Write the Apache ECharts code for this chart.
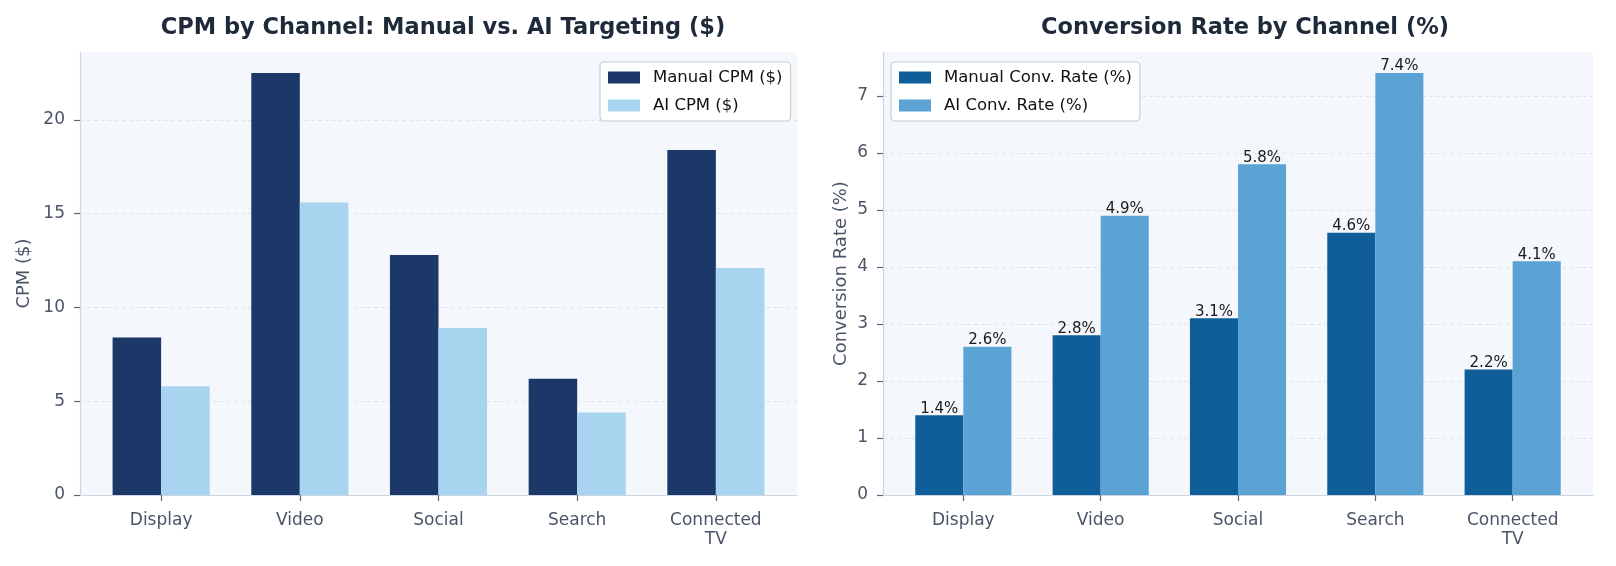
<!DOCTYPE html>
<html>
<head>
<meta charset="utf-8">
<script src="https://cdn.jsdelivr.net/npm/echarts@6/dist/echarts.min.js"></script>
<style>
  html, body { margin: 0; padding: 0; background: #ffffff; }
  #chart { width: 1616px; height: 566px; }
</style>
</head>
<body>
<div id="chart"></div>
<script>
const channels = ['Display', 'Video', 'Social', 'Search', 'Connected\nTV']
const manualCpm = [8.4, 22.5, 12.8, 6.2, 18.4]
const aiCpm = [5.8, 15.6, 8.9, 4.4, 12.1]
const manualConv = [1.4, 2.8, 3.1, 4.6, 2.2]
const aiConv = [2.6, 4.9, 5.8, 7.4, 4.1]
const cpmTicks = [0, 5, 10, 15, 20]
const convTicks = [0, 1, 2, 3, 4, 5, 6, 7]

const FONT = 'DejaVu Sans'
const LABEL_COLOR = '#4a5568'
const GRID_COLOR = '#dfe5ee'
const SPINE_COLOR = '#cdd5e3'
const TICK_COLOR = '#5a6578'
const PLOT_BG = '#f4f7fb'

// matplotlib-like x range: bars span -0.35..4.35 plus 5% margins
const X_PAD = 0.585
const X_SPAN = 4 + 2 * X_PAD

function frameGrid(left, right) {
  return { left: left, right: right, top: 52, bottom: 71, show: true, backgroundColor: PLOT_BG, borderWidth: 0 }
}

function barGrid(left, right) {
  const width = 1616 - left - right
  const px = width / X_SPAN
  const l = left + (X_PAD - 0.5) * px
  return { left: l, width: px * 5, top: 52, bottom: 71 }
}

function frameYAxis(gridIndex, max, ticks, name, nameGap) {
  return {
    type: 'value',
    gridIndex: gridIndex,
    min: 0,
    max: max,
    name: name,
    nameLocation: 'middle',
    nameGap: nameGap,
    nameTextStyle: { color: LABEL_COLOR, fontFamily: FONT, fontSize: 18 },
    axisLine: { show: true, lineStyle: { color: SPINE_COLOR, width: 1.2 } },
    axisTick: { show: true, length: 6, customValues: ticks, lineStyle: { color: TICK_COLOR, width: 1.2 } },
    axisLabel: {
      color: LABEL_COLOR, fontFamily: FONT, fontSize: 17, margin: 15,
      customValues: ticks
    },
    splitLine: { show: true, lineStyle: { color: GRID_COLOR, type: [4, 3], width: 1 } }
  }
}

function frameXAxis(gridIndex) {
  return {
    type: 'value',
    gridIndex: gridIndex,
    min: 0,
    max: 1,
    axisLine: { show: true, onZero: false, lineStyle: { color: SPINE_COLOR, width: 1.2 } },
    axisTick: { show: false },
    axisLabel: { show: false },
    splitLine: { show: false }
  }
}

function catXAxis(gridIndex) {
  return {
    type: 'category',
    gridIndex: gridIndex,
    data: channels,
    axisLine: { show: false },
    axisTick: { show: true, alignWithLabel: true, length: 6, lineStyle: { color: TICK_COLOR, width: 1.2 } },
    axisLabel: { color: LABEL_COLOR, fontFamily: FONT, fontSize: 17, margin: 16, lineHeight: 19 }
  }
}

function hiddenYAxis(gridIndex, max) {
  return { type: 'value', gridIndex: gridIndex, min: 0, max: max, show: false }
}

function legendAt(left, names) {
  return {
    left: left,
    top: 62,
    orient: 'vertical',
    data: names,
    itemWidth: 32,
    itemHeight: 12,
    itemGap: 11,
    padding: [7, 8, 7, 8],
    icon: 'rect',
    backgroundColor: 'rgba(255,255,255,0.9)',
    borderColor: '#cccccc',
    borderWidth: 1.2,
    borderRadius: 4,
    textStyle: { color: '#111111', fontFamily: FONT, fontSize: 16.5, padding: [0, 0, 0, 8] }
  }
}

const cpmMax = 23.625
const convMax = 7.77

const option = {
  animation: false,
  textStyle: { fontFamily: FONT },
  title: [
    {
      text: 'CPM by Channel: Manual vs. AI Targeting ($)',
      left: 438, top: 12, textAlign: 'center',
      textStyle: { color: '#1e2a3a', fontFamily: FONT, fontSize: 22.5, fontWeight: 'bold' }
    },
    {
      text: 'Conversion Rate by Channel (%)',
      left: 1240, top: 12, textAlign: 'center',
      textStyle: { color: '#1e2a3a', fontFamily: FONT, fontSize: 22.5, fontWeight: 'bold' }
    }
  ],
  legend: [
    legendAt(600, ['Manual CPM ($)', 'AI CPM ($)']),
    legendAt(891, ['Manual Conv. Rate (%)', 'AI Conv. Rate (%)'])
  ],
  grid: [
    frameGrid(80, 819),
    barGrid(80, 819),
    frameGrid(883, 23),
    barGrid(883, 23)
  ],
  xAxis: [
    frameXAxis(0),
    catXAxis(1),
    frameXAxis(2),
    catXAxis(3)
  ],
  yAxis: [
    frameYAxis(0, cpmMax, cpmTicks, 'CPM ($)', 47),
    hiddenYAxis(1, cpmMax),
    frameYAxis(2, convMax, convTicks, 'Conversion Rate (%)', 33),
    hiddenYAxis(3, convMax)
  ],
  series: [
    {
      name: 'Manual CPM ($)', type: 'bar', xAxisIndex: 1, yAxisIndex: 1,
      data: manualCpm, barWidth: '35%', barGap: '0%',
      itemStyle: { color: '#1c3868' }
    },
    {
      name: 'AI CPM ($)', type: 'bar', xAxisIndex: 1, yAxisIndex: 1,
      data: aiCpm, barWidth: '35%', barGap: '0%',
      itemStyle: { color: '#a8d4ef' }
    },
    {
      name: 'Manual Conv. Rate (%)', type: 'bar', xAxisIndex: 3, yAxisIndex: 3,
      data: manualConv, barWidth: '35%', barGap: '0%',
      itemStyle: { color: '#0f5e99' },
      label: { show: true, position: 'top', distance: -1, formatter: '{c}%', color: '#1a1a1a', fontFamily: FONT, fontSize: 15 }
    },
    {
      name: 'AI Conv. Rate (%)', type: 'bar', xAxisIndex: 3, yAxisIndex: 3,
      data: aiConv, barWidth: '35%', barGap: '0%',
      itemStyle: { color: '#5ba3d5' },
      label: { show: true, position: 'top', distance: -1, formatter: '{c}%', color: '#1a1a1a', fontFamily: FONT, fontSize: 15 }
    }
  ]
}

const chart = echarts.init(document.getElementById('chart'))
chart.setOption(option)
</script>
</body>
</html>
